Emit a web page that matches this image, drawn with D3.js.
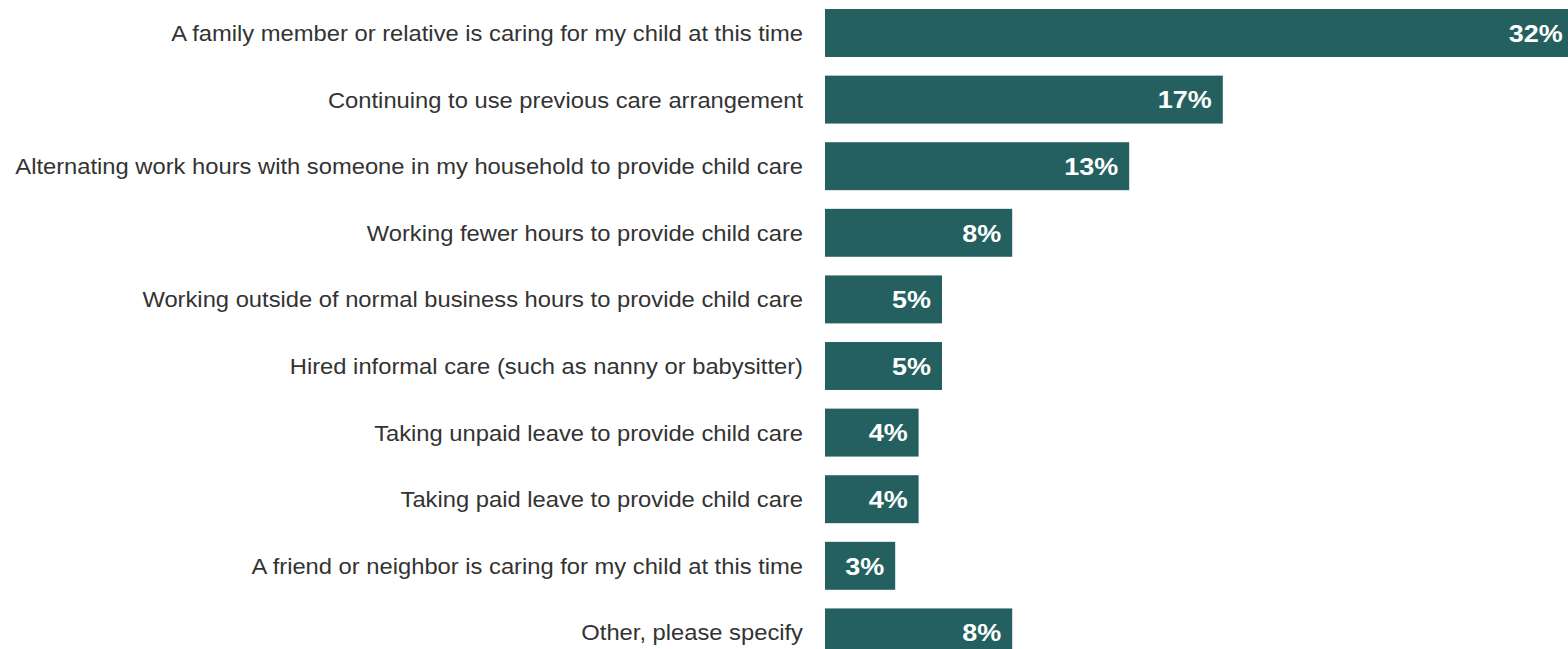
<!DOCTYPE html>
<html><head><meta charset="utf-8">
<script src="https://cdn.jsdelivr.net/npm/d3@7"></script>
<style>html,body{margin:0;padding:0;background:#fff;overflow:hidden}</style>
</head><body>
<svg id="c" width="1568" height="649"></svg>
<script>
const categories = [
  "A family member or relative is caring for my child at this time",
  "Continuing to use previous care arrangement",
  "Alternating work hours with someone in my household to provide child care",
  "Working fewer hours to provide child care",
  "Working outside of normal business hours to provide child care",
  "Hired informal care (such as nanny or babysitter)",
  "Taking unpaid leave to provide child care",
  "Taking paid leave to provide child care",
  "A friend or neighbor is caring for my child at this time",
  "Other, please specify"
];
const values = [32, 17, 13, 8, 5, 5, 4, 4, 3, 8];

const svg = d3.select("#c");
const x = d3.scaleLinear().domain([0, 100]).range([825, 825 + 2340]);
const y = d3.scaleBand().domain(categories).range([-0.3, 665.7]).paddingInner(0.28).paddingOuter(0.14);

svg.selectAll("rect.bar").data(values).enter().append("rect")
  .attr("class", "bar")
  .attr("x", x(0))
  .attr("y", (d, i) => y(categories[i]))
  .attr("width", d => x(d) - x(0))
  .attr("height", y.bandwidth())
  .attr("fill", "#24605f");

svg.selectAll("text.val").data(values).enter().append("text")
  .attr("class", "val")
  .attr("transform", (d, i) => `translate(${x(d) - 11},${y(categories[i]) + y.bandwidth() / 2}) scale(1.1,1)`)
  .attr("dy", "0.36em")
  .attr("text-anchor", "end")
  .attr("fill", "#fff")
  .attr("font-family", "Liberation Sans, Arial, sans-serif")
  .attr("font-weight", "bold")
  .attr("font-size", "24.5px")
  .text(d => d + "%");

svg.selectAll("text.cat").data(categories).enter().append("text")
  .attr("class", "cat")
  .attr("transform", d => `translate(803,${y(d) + y.bandwidth() / 2}) scale(1.08,1)`)
  .attr("dy", "0.36em")
  .attr("text-anchor", "end")
  .attr("fill", "#333")
  .attr("font-family", "Liberation Sans, Arial, sans-serif")
  .attr("font-size", "22px")
  .text(d => d);
</script>
</body></html>
